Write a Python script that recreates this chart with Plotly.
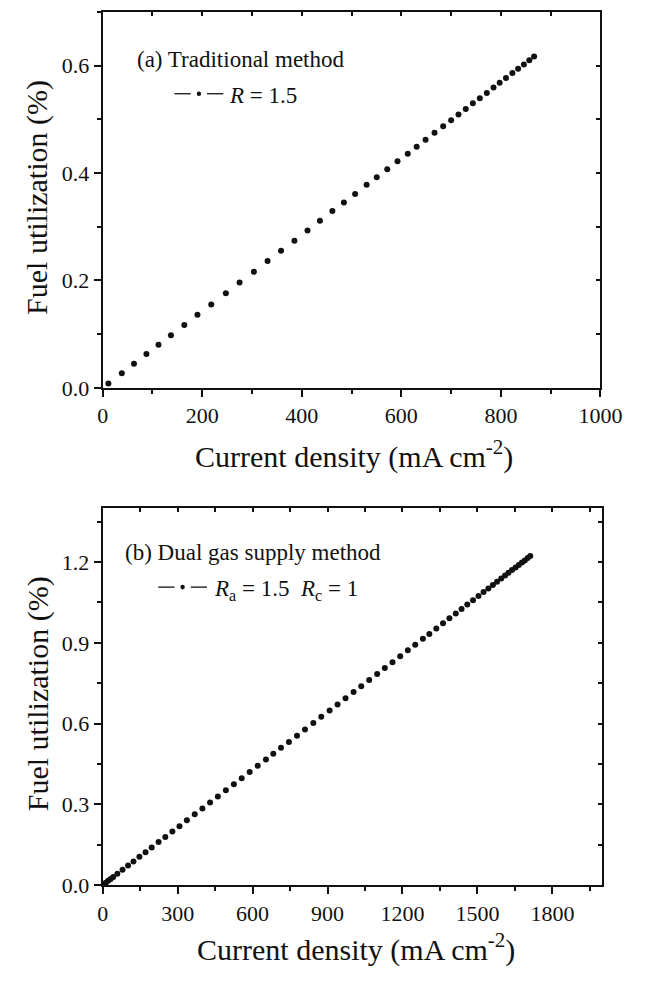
import plotly.graph_objects as go

# ---- data ----
cd_a = [11.5, 38.5, 62.9, 87.9, 112.1, 137.1, 164.0, 190.4, 218.1, 247.5, 275.0, 303.8,
        331.3, 358.3, 385.2, 411.5, 436.5, 461.5, 484.6, 507.1, 530.2, 550.6, 571.7, 592.3,
        612.9, 630.8, 648.7, 666.7, 684.0, 700.0, 714.8, 729.4, 743.7, 757.7, 771.7, 785.2,
        797.5, 810.2, 823.1, 834.6, 846.2, 857.1, 866.7]
fu_a = [0.008, 0.027, 0.045, 0.063, 0.080, 0.098, 0.117, 0.136, 0.155, 0.176, 0.196, 0.216,
        0.236, 0.255, 0.274, 0.293, 0.311, 0.329, 0.345, 0.361, 0.378, 0.392, 0.407, 0.422,
        0.436, 0.449, 0.462, 0.475, 0.487, 0.498, 0.509, 0.519, 0.530, 0.539, 0.549, 0.559,
        0.568, 0.577, 0.586, 0.594, 0.602, 0.610, 0.617]

cd_b = [3.1, 12.3, 21.9, 31.8, 42.2, 58.7, 79.4, 101.7, 123.2, 147.0, 171.5, 196.1, 223.7,
        250.6, 279.0, 307.4, 336.9, 368.4, 399.1, 429.8, 460.9, 493.1, 525.0, 556.4, 588.3,
        620.5, 653.5, 683.0, 713.7, 745.6, 777.8, 809.7, 843.1, 874.9, 908.3, 940.1, 972.0,
        1004.2, 1034.9, 1066.8, 1098.6, 1129.3, 1160.0, 1190.7, 1221.4, 1251.0, 1281.7,
        1307.4, 1335.4, 1362.2, 1387.9, 1413.3, 1436.3, 1459.3, 1482.3, 1504.2, 1524.6,
        1543.7, 1561.8, 1578.3, 1595.2, 1610.5, 1624.3, 1638.5, 1652.7, 1665.4, 1678.0,
        1689.6, 1701.1, 1711.4]
fu_b = [0.002, 0.009, 0.016, 0.023, 0.030, 0.042, 0.057, 0.073, 0.088, 0.105, 0.122, 0.140,
        0.160, 0.179, 0.199, 0.219, 0.241, 0.263, 0.285, 0.307, 0.329, 0.352, 0.375, 0.397,
        0.420, 0.443, 0.467, 0.488, 0.510, 0.532, 0.555, 0.578, 0.602, 0.625, 0.649, 0.671,
        0.694, 0.717, 0.739, 0.762, 0.784, 0.806, 0.828, 0.850, 0.872, 0.893, 0.915, 0.933,
        0.953, 0.973, 0.991, 1.009, 1.026, 1.042, 1.058, 1.074, 1.089, 1.102, 1.115, 1.127,
        1.139, 1.150, 1.160, 1.170, 1.180, 1.189, 1.198, 1.206, 1.215, 1.222]

label_a = "(a) Traditional method"
label_b = "(b) Dual gas supply method"
legend_a = "<i>R</i> = 1.5"
legend_b = "<i>R</i><sub>a</sub> = 1.5  <i>R</i><sub>c</sub> = 1"
ytitle = "Fuel utilization (%)"
xtitle = "Current density (mA cm<sup>-2</sup>)"

W, H = 655, 982
FONT = "Liberation Serif"
INK = "#111111"

def px(x):
    return x / W

def py(y):
    return 1 - y / H

fig = go.Figure()
mk = dict(color=INK, size=6, symbol="circle")
fig.add_trace(go.Scatter(x=cd_a, y=fu_a, mode="markers", marker=mk, xaxis="x", yaxis="y",
                         showlegend=False, hoverinfo="skip"))
fig.add_trace(go.Scatter(x=cd_b, y=fu_b, mode="markers", marker=mk, xaxis="x2", yaxis="y2",
                         showlegend=False, hoverinfo="skip"))
# dummy traces so mirror (inside-tick) axes get drawn
fig.add_trace(go.Scatter(x=[], y=[], xaxis="x3", yaxis="y3", showlegend=False))
fig.add_trace(go.Scatter(x=[], y=[], xaxis="x4", yaxis="y4", showlegend=False))

tickfont = dict(family=FONT, size=22, color=INK)

def main_x(rng, dtick, minor_dtick, dom, anchor):
    return dict(domain=dom, anchor=anchor, range=rng, dtick=dtick, tick0=0,
                ticks="outside", ticklen=7, tickwidth=1.5, tickcolor=INK,
                minor=dict(dtick=minor_dtick, tick0=0, ticks="outside", ticklen=4,
                           tickwidth=1.5, tickcolor=INK),
                showline=True, linewidth=2, linecolor=INK, mirror=True,
                showgrid=False, zeroline=False, tickfont=tickfont, fixedrange=True)

def main_y(rng, dtick, minor_dtick, dom, anchor):
    return dict(domain=dom, anchor=anchor, range=rng, dtick=dtick, tick0=0,
                tickformat=".1f",
                ticks="outside", ticklen=7, tickwidth=1.5, tickcolor=INK,
                minor=dict(dtick=minor_dtick, tick0=0, ticks="outside", ticklen=4,
                           tickwidth=1.5, tickcolor=INK),
                showline=True, linewidth=2, linecolor=INK, mirror=True,
                showgrid=False, zeroline=False, tickfont=tickfont, fixedrange=True)

def mirror_axis(rng, dtick, over, anchor, side):
    return dict(overlaying=over, anchor=anchor, side=side, range=rng, dtick=dtick, tick0=0,
                ticks="inside", ticklen=4, tickwidth=1.5, tickcolor=INK,
                showticklabels=False, showline=False, showgrid=False, zeroline=False,
                fixedrange=True)

xdom_a = [px(101), px(621)]
ydom_a = [py(393), py(12)]
xdom_b = [px(101), px(623)]
ydom_b = [py(897), py(515)]

fig.update_layout(
    width=W, height=H,
    margin=dict(l=0, r=0, t=0, b=0),
    paper_bgcolor="white", plot_bgcolor="white",
    font=dict(family=FONT, color=INK),
    xaxis=main_x([0, 1000], 200, 100, xdom_a, "y"),
    yaxis=main_y([0, 0.7], 0.2, 0.1, ydom_a, "x"),
    xaxis2=main_x([0, 2000], 300, 150, xdom_b, "y2"),
    yaxis2=main_y([0, 1.4], 0.3, 0.15, ydom_b, "x2"),
    xaxis3=mirror_axis([0, 1000], 100, "x", "y", "top"),
    yaxis3=mirror_axis([0, 0.7], 0.1, "y", "x", "right"),
    xaxis4=mirror_axis([0, 2000], 150, "x2", "y2", "top"),
    yaxis4=mirror_axis([0, 1.4], 0.15, "y2", "x2", "right"),
)

ann_font = dict(family=FONT, size=23, color=INK)
title_font = dict(family=FONT, size=30, color=INK)
annotations = [
    dict(text=label_a, x=px(135), y=py(60), xanchor="left", yanchor="middle", font=ann_font),
    dict(text=legend_a, x=px(231), y=py(97), xanchor="left", yanchor="middle", font=ann_font),
    dict(text=label_b, x=px(122), y=py(560), xanchor="left", yanchor="middle", font=ann_font),
    dict(text=legend_b, x=px(215), y=py(598), xanchor="left", yanchor="middle", font=ann_font),
    dict(text=ytitle, x=px(33), y=py(200), xanchor="center", yanchor="middle",
         textangle=-90, font=title_font),
    dict(text=ytitle, x=px(33), y=py(703), xanchor="center", yanchor="middle",
         textangle=-90, font=title_font),
    dict(text=xtitle, x=px(364), y=py(461), xanchor="center", yanchor="middle", font=title_font),
    dict(text=xtitle, x=px(366), y=py(960), xanchor="center", yanchor="middle", font=title_font),
]
for a in annotations:
    a.update(xref="paper", yref="paper", showarrow=False)
fig.update_layout(annotations=annotations)

# legend key glyphs (dash - dot - dash), drawn in pixel positions on the paper
def legend_key(x0, yc):
    shapes = []
    for a, b in [(x0, x0 + 17), (x0 + 34, x0 + 51)]:
        shapes.append(dict(type="line", xref="paper", yref="paper",
                           x0=px(a), x1=px(b), y0=py(yc), y1=py(yc),
                           line=dict(color=INK, width=1.3)))
    cx = x0 + 25.5
    shapes.append(dict(type="circle", xref="paper", yref="paper",
                       x0=px(cx - 2.3), x1=px(cx + 2.3), y0=py(yc + 2.3), y1=py(yc - 2.3),
                       fillcolor=INK, line=dict(color=INK, width=0)))
    return shapes

fig.update_layout(shapes=legend_key(176, 95) + legend_key(159, 595))

fig.write_html("out.html")
